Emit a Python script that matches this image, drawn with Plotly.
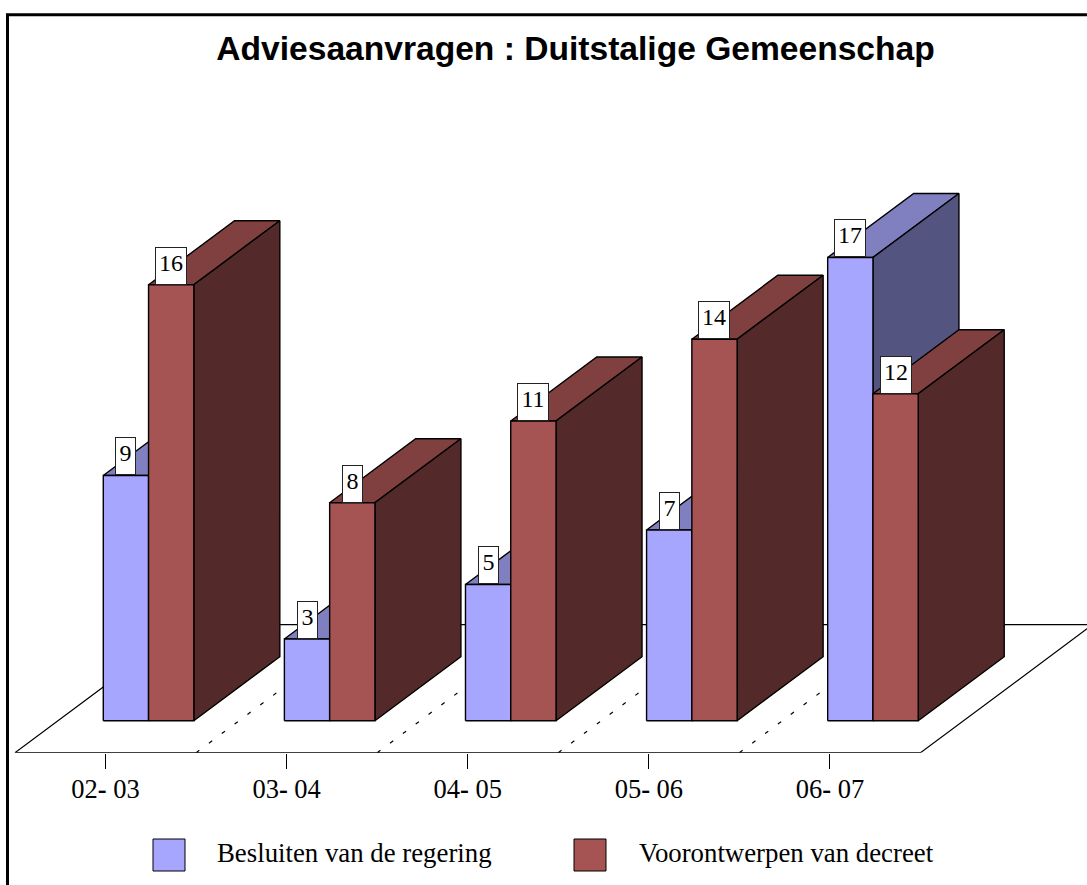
import plotly.graph_objects as go

TITLE = "Adviesaanvragen : Duitstalige Gemeenschap"
categories = ["02- 03", "03- 04", "04- 05", "05- 06", "06- 07"]
besluiten = [9, 3, 5, 7, 17]
voorontwerpen = [16, 8, 11, 14, 12]
series_names = ["Besluiten van de regering", "Voorontwerpen van decreet"]

BLUE = ["#A6A6FF", "#8080C0", "#545480"]   # front, top, side
RED = ["#A65353", "#804040", "#542929"]

W, H = 1087, 885
PX_PER_SLOT = 181.1
PX_PER_VALUE = 27.25
FLOOR_LEFT = 15.0
FLOOR_FRONT = 752.7
DEPTH_X = 172 / PX_PER_SLOT     # slots covered by the full floor depth
DEPTH_Y = 128 / PX_PER_VALUE    # value units covered by the full floor depth
D0, D1 = 0.25, 0.75             # bar depth on the floor


def project(x, d, v=0.0):
    """Oblique projection of (slot position, depth, value) onto the axes."""
    return x + d * DEPTH_X, v + (d - D0) * DEPTH_Y


def polys_to_xy(polys):
    xs, ys = [], []
    for poly in polys:
        closed = poly + [poly[0]]
        xs += [p[0] for p in closed] + [None]
        ys += [p[1] for p in closed] + [None]
    return xs, ys


def face(name, polys, color):
    xs, ys = polys_to_xy(polys)
    return go.Scatter(x=xs, y=ys, mode="lines", fill="toself", fillcolor=color,
                      line=dict(color="#000000", width=1.4), name=name,
                      showlegend=False, hoverinfo="skip")


fig = go.Figure()

# floor
fig.add_trace(face("floor",
                   [[project(0, 0), project(len(categories), 0),
                     project(len(categories), 1), project(0, 1)]], "#FFFFFF"))
fig.data[0].line.width = 1.2

# dashed separators on the floor
sep_x, sep_y = [], []
for i in range(1, len(categories)):
    for d in (0, 1):
        px_, py_ = project(i, d)
        sep_x.append(px_)
        sep_y.append(py_)
    sep_x.append(None)
    sep_y.append(None)
fig.add_trace(go.Scatter(x=sep_x, y=sep_y, mode="lines", showlegend=False, hoverinfo="skip",
                         line=dict(color="#000000", width=1.2, dash="4px,12px")))

annotations = []
for s, (values, colors, offset) in enumerate(((besluiten, BLUE, 0.25), (voorontwerpen, RED, 0.5))):
    tops, sides, fronts = [], [], []
    for i, v in enumerate(values):
        a, b = i + offset, i + offset + 0.25
        tops.append([project(a, D0, v), project(b, D0, v), project(b, D1, v), project(a, D1, v)])
        sides.append([project(b, D0, 0), project(b, D1, 0), project(b, D1, v), project(b, D0, v)])
        fronts.append([project(a, D0, 0), project(b, D0, 0), project(b, D0, v), project(a, D0, v)])
        lx, ly = project((a + b) / 2, D0, v)
        annotations.append(dict(x=lx, y=ly, xref="x", yref="y", text=str(v), showarrow=False,
                                xanchor="center", yanchor="bottom", bgcolor="#FFFFFF",
                                bordercolor="#222222", borderwidth=1, borderpad=2,
                                height=32, width=15 if v < 10 else 26,
                                valign="top", align="center",
                                font=dict(family="Liberation Serif", size=24, color="#000000")))
    fig.add_trace(face(series_names[s] + " top", tops, colors[1]))
    fig.add_trace(face(series_names[s] + " side", sides, colors[2]))
    fig.add_trace(face(series_names[s], fronts, colors[0]))

# legend drawn at reference size
shapes = [dict(type="path", xref="paper", yref="paper",
               path=f"M {7.5/W} 0 L {7.5/W} {1-14.7/H} L 1 {1-14.7/H}",
               line=dict(color="#000000", width=3))]
for name, color, sx, tx in ((series_names[0], BLUE[0], 153, 215), (series_names[1], RED[0], 574, 637)):
    shapes.append(dict(type="rect", xref="paper", yref="paper",
                       x0=sx / W, x1=(sx + 32) / W, y0=1 - 871 / H, y1=1 - 839 / H,
                       fillcolor=color, line=dict(color="#000000", width=1)))
    annotations.append(dict(x=tx / W, y=1 - 853 / H, xref="paper", yref="paper", text=name,
                            showarrow=False, xanchor="left", yanchor="middle",
                            font=dict(family="Liberation Serif", size=26.8, color="#000000")))

fig.update_layout(
    width=W, height=H, margin=dict(l=0, r=0, t=0, b=0, autoexpand=False),
    paper_bgcolor="#FFFFFF", plot_bgcolor="#FFFFFF", showlegend=False,
    title=dict(text=f"<b>{TITLE}</b>", x=575.5 / W, xref="paper", xanchor="center",
               y=1 - 48 / H, yref="paper", yanchor="middle",
               font=dict(family="Liberation Sans", size=33.6, color="#000000")),
    annotations=annotations, shapes=shapes,
    xaxis=dict(range=[-FLOOR_LEFT / PX_PER_SLOT, (W - FLOOR_LEFT) / PX_PER_SLOT],
               domain=[0, 1], showgrid=False, zeroline=False, showline=False,
               tickmode="array", tickvals=[i + 0.5 for i in range(len(categories))],
               ticktext=[c.replace("-", "<b>-</b>") for c in categories],
               ticks="outside", ticklen=15, tickwidth=1, tickcolor="#000000",
               ticklabelstandoff=-3,
               tickfont=dict(family="Liberation Serif", size=26.5, color="#000000")),
    yaxis=dict(domain=[1 - FLOOR_FRONT / H, 1],
               range=[-D0 * DEPTH_Y, -D0 * DEPTH_Y + FLOOR_FRONT / PX_PER_VALUE],
               visible=False),
)

fig.write_html("out.html", config={"displayModeBar": False},
               post_script="document.body.style.margin='0';")
